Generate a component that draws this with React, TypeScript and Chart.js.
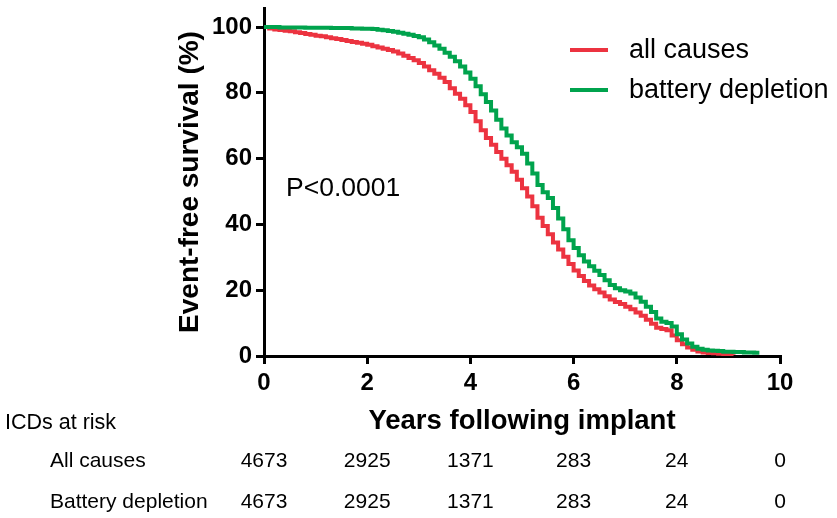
import { useEffect, useRef } from "react";
import { Chart, registerables } from "chart.js";

Chart.register(...registerables);

// ---- Data ----
const seriesLabels = ["all causes", "battery depletion"];

const yearsAllCauses = [
  0, 0.1, 0.2, 0.3, 0.4, 0.5, 0.6, 0.7, 0.8, 0.9,
  1.0, 1.1, 1.2, 1.3, 1.4, 1.5, 1.6, 1.7, 1.8, 1.9,
  2.0, 2.1, 2.2, 2.3, 2.4, 2.5, 2.6, 2.7, 2.8, 2.9,
  3.0, 3.1, 3.2, 3.3, 3.4, 3.5, 3.6, 3.7, 3.8, 3.9,
  4.0, 4.1, 4.2, 4.3, 4.4, 4.5, 4.6, 4.7, 4.8, 4.9,
  5.0, 5.1, 5.2, 5.3, 5.4, 5.5, 5.6, 5.7, 5.8, 5.9,
  6.0, 6.1, 6.2, 6.3, 6.4, 6.5, 6.6, 6.7, 6.8, 6.9,
  7.0, 7.1, 7.2, 7.3, 7.4, 7.5, 7.6, 7.7, 7.8, 7.9,
  8.0, 8.1, 8.2, 8.3, 8.4, 8.5, 8.6, 8.7, 8.8, 8.9,
  9.0, 9.1,
];
const survivalAllCauses = [
  100, 99.6, 99.3, 99.1, 98.9, 98.7, 98.4, 98.2, 97.9, 97.7,
  97.4, 97.2, 96.9, 96.6, 96.4, 96.1, 95.8, 95.5, 95.2, 94.9,
  94.6, 94.2, 93.8, 93.4, 93.0, 92.6, 92.0, 91.3, 90.6, 89.9,
  89.1, 88.0, 86.9, 85.8, 84.6, 83.3, 81.4, 79.7, 78.2, 76.2,
  74.2, 71.4, 68.6, 66.3, 64.2, 62.0, 60.0, 58.0, 56.0, 53.6,
  51.0, 48.5, 45.5, 42.0, 39.5, 37.0, 34.5, 32.4, 30.2, 28.0,
  26.0, 24.3, 22.8, 21.4, 20.3, 19.3, 18.2, 17.2, 16.4, 15.8,
  15.0, 14.2, 13.2, 12.2, 11.0, 9.8, 8.6, 8.2, 7.8, 6.2,
  4.8, 3.6, 2.6, 1.9, 1.4, 1.1, 0.9, 0.8, 0.7, 0.6,
  0.5, 0.4,
];

const yearsBattery = [
  0, 0.1, 0.2, 0.3, 0.4, 0.5, 0.6, 0.7, 0.8, 0.9,
  1.0, 1.1, 1.2, 1.3, 1.4, 1.5, 1.6, 1.7, 1.8, 1.9,
  2.0, 2.1, 2.2, 2.3, 2.4, 2.5, 2.6, 2.7, 2.8, 2.9,
  3.0, 3.1, 3.2, 3.3, 3.4, 3.5, 3.6, 3.7, 3.8, 3.9,
  4.0, 4.1, 4.2, 4.3, 4.4, 4.5, 4.6, 4.7, 4.8, 4.9,
  5.0, 5.1, 5.2, 5.3, 5.4, 5.5, 5.6, 5.7, 5.8, 5.9,
  6.0, 6.1, 6.2, 6.3, 6.4, 6.5, 6.6, 6.7, 6.8, 6.9,
  7.0, 7.1, 7.2, 7.3, 7.4, 7.5, 7.6, 7.7, 7.8, 7.9,
  8.0, 8.1, 8.2, 8.3, 8.4, 8.5, 8.6, 8.7, 8.8, 8.9,
  9.0, 9.1, 9.2, 9.3, 9.4, 9.5, 9.6,
];
const survivalBattery = [
  100, 100, 100, 99.9, 99.9, 99.9, 99.9, 99.9, 99.8, 99.8,
  99.8, 99.8, 99.8, 99.7, 99.7, 99.7, 99.7, 99.6, 99.6, 99.5,
  99.5, 99.4, 99.2, 99.0, 98.8, 98.6, 98.3, 98.0, 97.7, 97.3,
  96.9, 96.2, 95.4, 94.4, 93.4, 92.2, 91.0, 89.6, 88.0, 86.2,
  84.3, 82.0, 79.6, 77.2, 74.6, 71.8, 69.2, 67.0, 65.0, 63.5,
  61.5, 58.5, 55.5, 52.0, 49.8, 48.0, 45.0, 41.8, 38.5, 35.2,
  32.8, 30.6, 28.7, 27.3, 25.9, 24.6, 23.0, 21.6, 20.6, 20.0,
  19.6, 19.0, 17.8, 16.5, 15.0, 13.4, 11.4, 10.4, 10.0, 9.0,
  6.6, 5.0, 3.8, 2.8, 2.2, 1.9, 1.7, 1.6, 1.5, 1.3,
  1.3, 1.2, 1.2, 1.1, 1.1, 1.0, 1.0,
];

const xTickValues = [0, 2, 4, 6, 8, 10];
const yTickValues = [0, 20, 40, 60, 80, 100];

const riskHeader = "ICDs at risk";
const riskRowLabels = ["All causes", "Battery depletion"];
const riskTimes = [0, 2, 4, 6, 8, 10];
const riskAllCauses = [4673, 2925, 1371, 283, 24, 0];
const riskBattery = [4673, 2925, 1371, 283, 24, 0];

const pValueText = "P<0.0001";
const xTitle = "Years following implant";
const yTitle = "Event-free survival (%)";

const RED = "#EC3340";
const GREEN = "#00A34D";
const FONT = '"Liberation Sans", Arial, Helvetica, sans-serif';

const toPoints = (xs: number[], ys: number[]) => xs.map((x, i) => ({ x, y: ys[i] }));

const extrasPlugin = {
  id: "extras",
  afterDraw(chart: any) {
    const ctx = chart.ctx as CanvasRenderingContext2D;
    const xs = chart.scales.x;
    ctx.save();
    ctx.fillStyle = "#000";
    ctx.textBaseline = "middle";
    ctx.textAlign = "left";

    // P value
    ctx.font = `26.5px ${FONT}`;
    ctx.fillText(pValueText, 286, 189);

    // legend
    ctx.font = `27px ${FONT}`;
    chart.data.datasets.forEach((ds: any, i: number) => {
      const y = 50 + i * 40;
      ctx.strokeStyle = ds.borderColor;
      ctx.lineWidth = 4;
      ctx.beginPath();
      ctx.moveTo(570, y);
      ctx.lineTo(608, y);
      ctx.stroke();
      ctx.fillStyle = "#000";
      ctx.fillText(ds.label, 629, y + 1);
    });

    // at-risk table
    ctx.font = `21.5px ${FONT}`;
    ctx.fillText(riskHeader, 5, 423);
    const rowsY = [461, 502];
    const rows = [riskAllCauses, riskBattery];
    ctx.font = `21px ${FONT}`;
    riskRowLabels.forEach((lab, r) => {
      ctx.textAlign = "left";
      ctx.fillText(lab, 50, rowsY[r]);
      ctx.textAlign = "center";
      riskTimes.forEach((t, j) => {
        ctx.fillText(String(rows[r][j]), xs.getPixelForValue(t), rowsY[r]);
      });
    });
    ctx.restore();
  },
};

export default function App() {
  const canvasRef = useRef<HTMLCanvasElement | null>(null);

  useEffect(() => {
    if (!canvasRef.current) return;
    Chart.defaults.font.family = FONT;
    const chart = new Chart(canvasRef.current, {
      type: "line",
      data: {
        datasets: [
          {
            label: seriesLabels[0],
            data: toPoints(yearsAllCauses, survivalAllCauses),
            borderColor: RED,
            backgroundColor: RED,
            borderWidth: 4,
            pointRadius: 0,
            stepped: true,
            fill: false,
            order: 1,
          },
          {
            label: seriesLabels[1],
            data: toPoints(yearsBattery, survivalBattery),
            borderColor: GREEN,
            backgroundColor: GREEN,
            borderWidth: 4,
            pointRadius: 0,
            stepped: true,
            fill: false,
            order: 0,
          },
        ],
      },
      options: {
        animation: false,
        responsive: false,
        layout: { padding: { top: 8, right: 57, left: 0, bottom: 0 } },
        plugins: {
          legend: { display: false },
          tooltip: { enabled: false },
        },
        scales: {
          x: {
            type: "linear",
            min: 0,
            max: 10,
            afterBuildTicks: (s: any) => {
              s.ticks = xTickValues.map((v) => ({ value: v }));
            },
            afterFit: (s: any) => {
              s.height = 162;
              s.paddingLeft = 0;
              s.paddingRight = 0;
            },
            grid: {
              drawOnChartArea: false,
              drawTicks: true,
              tickLength: 8,
              color: "#000",
              lineWidth: 3,
            },
            border: { display: true, color: "#000", width: 3 },
            ticks: {
              color: "#000",
              font: { size: 24, weight: "bold" },
              padding: 5,
              maxRotation: 0,
            },
            title: {
              display: true,
              text: xTitle,
              color: "#000",
              font: { size: 27.5, weight: "bold" },
              padding: { top: 0, bottom: 80 },
            },
          },
          y: {
            type: "linear",
            min: 0,
            max: 105.8,
            afterBuildTicks: (s: any) => {
              s.ticks = yTickValues.map((v) => ({ value: v }));
            },
            afterFit: (s: any) => {
              s.width = 264;
              s.paddingTop = 0;
              s.paddingBottom = 0;
            },
            grid: {
              drawOnChartArea: false,
              drawTicks: true,
              tickLength: 8,
              color: "#000",
              lineWidth: 3,
            },
            border: { display: true, color: "#000", width: 3 },
            ticks: {
              color: "#000",
              font: { size: 24, weight: "bold" },
              padding: 4,
            },
            title: {
              display: true,
              text: yTitle,
              color: "#000",
              font: { size: 28, weight: "bold" },
              padding: { top: 173, bottom: 0 },
            },
          },
        },
      },
      plugins: [extrasPlugin],
    } as any);
    return () => chart.destroy();
  }, []);

  return (
    <div style={{ position: "absolute", left: 0, top: 0, width: 837, height: 518, background: "#fff" }}>
      <canvas ref={canvasRef} width={837} height={518} style={{ display: "block" }} />
    </div>
  );
}
